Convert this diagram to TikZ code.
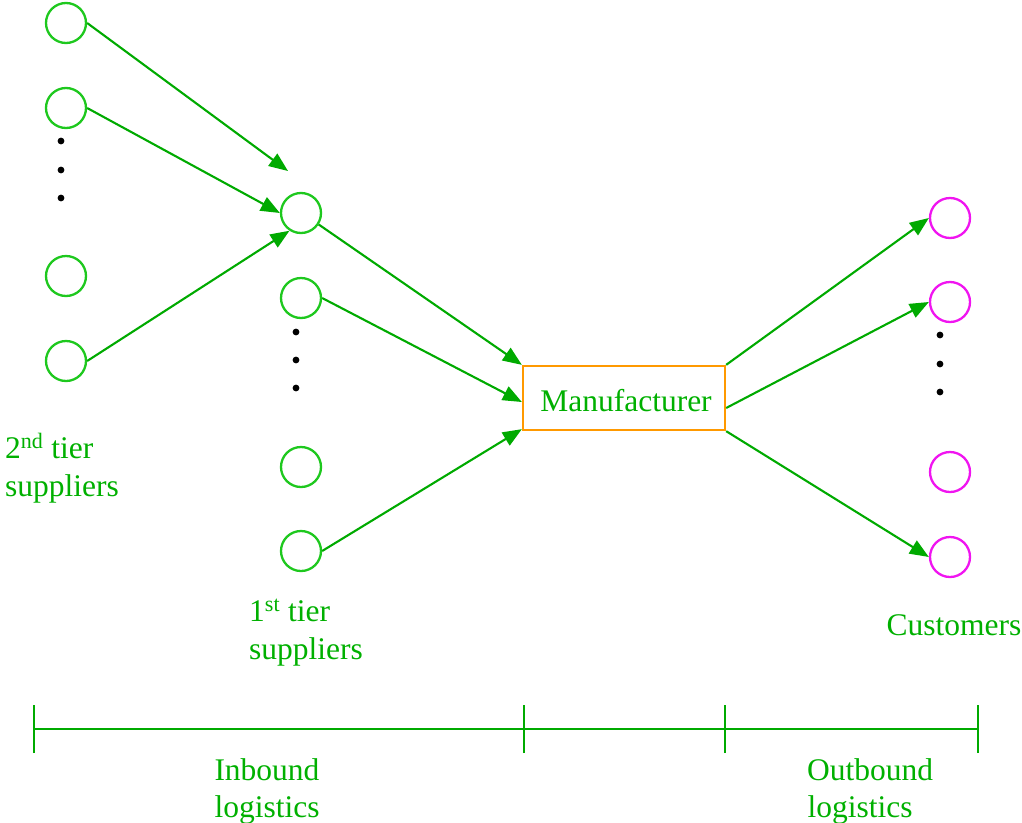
\documentclass[tikz,border=0pt]{standalone}
\usepackage{fontspec}
\setmainfont{Liberation Serif}
\usetikzlibrary{arrows.meta}
\definecolor{lgreen}{RGB}{0,170,0}
\definecolor{cgreen}{RGB}{30,200,30}
\definecolor{tgreen}{RGB}{0,176,0}
\definecolor{orng}{RGB}{255,153,0}
\definecolor{mag}{RGB}{240,20,240}
\tikzset{
  sup/.style={circle,draw=cgreen,line width=2.3pt,minimum size=40pt,inner sep=0pt},
  cust/.style={circle,draw=mag,line width=2.3pt,minimum size=40pt,inner sep=0pt},
  flow/.style={draw=lgreen,line width=2.1pt,-{Triangle[length=19pt,width=15pt]},fill=lgreen},
  lbl/.style={text=tgreen,font=\fontsize{31.5}{38}\selectfont,inner sep=0pt},
  dotm/.style={fill=black},
  bar/.style={draw=lgreen,line width=2pt}
}
\begin{document}
\begin{tikzpicture}[x=1pt,y=-1pt]
\useasboundingbox (0,0) rectangle (1022,822);
% 2nd tier
\node[sup] (a1) at (66,23) {};
\node[sup] (a2) at (66,108) {};
\node[sup] (a3) at (66,276) {};
\node[sup] (a4) at (66,361) {};
\foreach \y in {141,170,198} \fill[dotm] (61,\y) circle (3.4pt);
% 1st tier
\node[sup] (b1) at (301,213) {};
\node[sup] (b2) at (301,298) {};
\node[sup] (b3) at (301,467) {};
\node[sup] (b4) at (301,551) {};
\foreach \y in {332,360,388} \fill[dotm] (296,\y) circle (3.4pt);
% manufacturer
\node[draw=orng,line width=2.3pt,minimum width=202pt,minimum height=64pt,inner sep=0pt] (m) at (624,398) {};
\node[lbl,anchor=base] (mt) at (626,411) {Manufacturer};
% customers
\node[cust] (c1) at (950,218) {};
\node[cust] (c2) at (950,302) {};
\node[cust] (c3) at (950,472) {};
\node[cust] (c4) at (950,557) {};
\foreach \y in {335,364,392} \fill[dotm] (940,\y) circle (3.4pt);
% arrows
\coordinate (t1) at (288,171);
\draw[flow] (a1.east) -- (t1);
\draw[flow] (a2.east) -- (b1.west);
\draw[flow] (a4.east) -- (b1.237);
\draw[flow] (b1.-33) -- (m.north west);
\draw[flow] (b2.east) -- ([yshift=-4pt]m.west);
\draw[flow] (b4.east) -- ([yshift=2pt]m.south west);
\draw[flow] (m.north east) -- (c1.west);
\draw[flow] ([yshift=-10pt]m.east) -- (c2.west);
\draw[flow] (m.south east) -- (c4.west);
% labels
\node[lbl,anchor=base west] (l2) at (5,458) {2\textsuperscript{nd} tier};
\node[lbl,anchor=base west] (l2b) at (5,496) {suppliers};
\node[lbl,anchor=base west] (l1) at (249,621) {1\textsuperscript{st} tier};
\node[lbl,anchor=base west] (l1b) at (249,659) {suppliers};
\node[lbl,anchor=base] (lc) at (954,635) {Customers};
% timeline
\coordinate (p0) at (34,729);
\coordinate (p1) at (524,729);
\coordinate (p2) at (725,729);
\coordinate (p3) at (978,729);
\draw[bar] (p0) -- (p3);
\foreach \p in {p0,p1,p2,p3} \draw[bar] ([yshift=-24pt]\p) -- ([yshift=24pt]\p);
\node[lbl,anchor=base] (ib) at (267,780) {Inbound};
\node[lbl,anchor=base] (ib2) at (267,817) {logistics};
\node[lbl,anchor=base] (ob) at (870,780) {Outbound};
\node[lbl,anchor=base] (ob2) at (860,817) {logistics};
\end{tikzpicture}
\end{document}
